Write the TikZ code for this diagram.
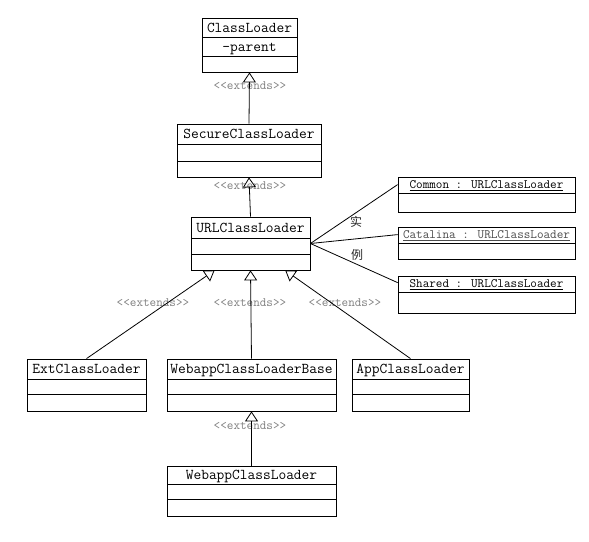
\documentclass[tikz,border=0pt]{standalone}
\usepackage{fontspec}
\newfontfamily\cjk{Noto Sans CJK SC}
\usetikzlibrary{arrows.meta,calc,fit}
\tikzset{
  boxline/.style={draw, line width=0.8pt},
  classtitle/.style={font=\fontsize{15}{15}\selectfont\ttfamily, inner sep=0pt, text height=11pt, text depth=2pt},
  objtitle/.style={font=\fontsize{12.8}{13}\selectfont\ttfamily, inner sep=0pt, text height=9pt, text depth=2.5pt},
  extlabel/.style={font=\fontsize{12.8}{13}\selectfont\ttfamily, text=black!50, inner sep=0pt},
  cjklabel/.style={font=\cjk\fontsize{12}{12}\selectfont, inner sep=0pt, text=black!85},
  extarrow/.style={line width=0.8pt, -{Triangle[open, length=10pt, width=13pt]}},
  assoc/.style={line width=0.8pt},
}
\newcommand\umlclass[8]{%
  \node[boxline, fit={(#2,#3)(#4,#5)}, inner sep=0pt] (#1) {};
  \draw[line width=0.8pt] (#2,#6) -- (#4,#6) (#2,#7) -- (#4,#7);
  \node[classtitle] (#1-t) at ({(#2+#4)/2},{(#3+#6)/2}) {#8};
}
\newcommand\umlobject[7]{%
  \node[boxline, fit={(#2,#3)(#4,#5)}, inner sep=0pt] (#1) {};
  \draw[line width=0.8pt] (#2,#6) -- (#4,#6);
  \node[objtitle] (#1-t) at ({(#2+#4)/2},{(#3+#6)/2}) {#7};
}
\begin{document}
\begin{tikzpicture}[x=1pt,y=-1pt]
\useasboundingbox (0,0) rectangle (589,541);
\fill[white] (0,0) rectangle (589,541);

% extends labels (drawn first, lines cross them)
\node[extlabel] (e1) at (250,86) {<<extends>>};
\node[extlabel] (e2) at (250,186) {<<extends>>};
\node[extlabel] (e3) at (153,303) {<<extends>>};
\node[extlabel] (e4) at (250,303) {<<extends>>};
\node[extlabel] (e5) at (345,303) {<<extends>>};
\node[extlabel] (e6) at (250,426) {<<extends>>};

% classes
\umlclass{cl}{202}{18}{297}{72}{37}{56}{ClassLoader}
\node[classtitle] (cl-p) at (249.5,46.5) {-parent};
\umlclass{scl}{177}{124}{321}{177}{144}{161}{SecureClassLoader}
\umlclass{url}{191}{217}{310}{270}{238}{254}{URLClassLoader}
\umlclass{ext}{27}{359}{146}{411}{379}{394}{ExtClassLoader}
\umlclass{wcb}{167}{359}{336}{411}{379}{394}{WebappClassLoaderBase}
\umlclass{app}{352}{359}{469}{411}{379}{394}{AppClassLoader}
\umlclass{wcl}{167}{466}{336}{516}{484}{499}{WebappClassLoader}

% objects
\umlobject{common}{398}{177}{575}{212}{193}{\underline{Common : URLClassLoader}}
\umlobject{catalina}{398}{227}{575}{259}{243}{\color{black!70}\underline{Catalina : URLClassLoader}}
\umlobject{shared}{398}{276}{575}{313}{292}{\underline{Shared : URLClassLoader}}

% generalizations
\draw[extarrow] (scl.north) -- (cl.south);
\draw[extarrow] (url.north) -- (scl.south);
\draw[extarrow] (ext.north) -- ($(url.south west)!0.2!(url.south east)$);
\draw[extarrow] (wcb.north) -- (url.south);
\draw[extarrow] (app.north) -- ($(url.south west)!0.79!(url.south east)$);
\draw[extarrow] (wcl.north) -- (wcb.south);

% instances
\draw[assoc] (url.east) -- ([yshift=-8pt]common.north west);
\draw[assoc] (url.east) -- ([yshift=-8pt]catalina.north west);
\draw[assoc] (url.east) -- ([yshift=-7pt]shared.north west);
\node[cjklabel] (shi) at (356,222) {实};
\node[cjklabel] (li) at (357,255) {例};
\end{tikzpicture}
\end{document}
